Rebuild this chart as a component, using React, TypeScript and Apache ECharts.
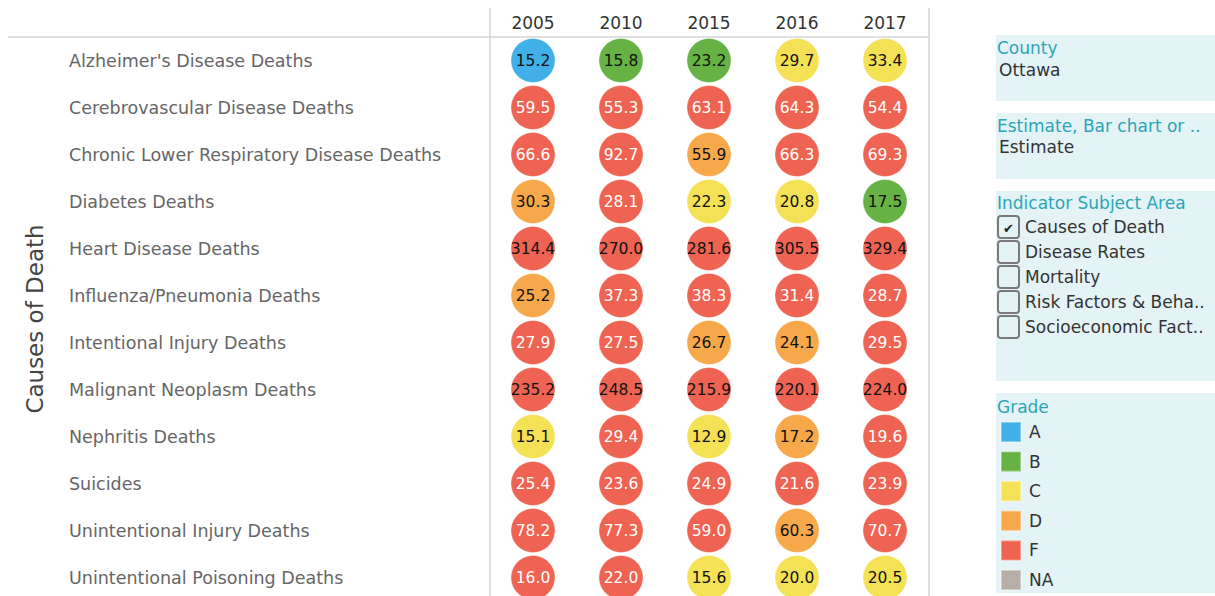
import React, { useEffect, useRef } from "react";
import * as echarts from "echarts";

const years = ["2005", "2010", "2015", "2016", "2017"];
const causes = [
  "Alzheimer's Disease Deaths",
  "Cerebrovascular Disease Deaths",
  "Chronic Lower Respiratory Disease Deaths",
  "Diabetes Deaths",
  "Heart Disease Deaths",
  "Influenza/Pneumonia Deaths",
  "Intentional Injury Deaths",
  "Malignant Neoplasm Deaths",
  "Nephritis Deaths",
  "Suicides",
  "Unintentional Injury Deaths",
  "Unintentional Poisoning Deaths",
];
const values = [
  [15.2, 15.8, 23.2, 29.7, 33.4],
  [59.5, 55.3, 63.1, 64.3, 54.4],
  [66.6, 92.7, 55.9, 66.3, 69.3],
  [30.3, 28.1, 22.3, 20.8, 17.5],
  [314.4, 270.0, 281.6, 305.5, 329.4],
  [25.2, 37.3, 38.3, 31.4, 28.7],
  [27.9, 27.5, 26.7, 24.1, 29.5],
  [235.2, 248.5, 215.9, 220.1, 224.0],
  [15.1, 29.4, 12.9, 17.2, 19.6],
  [25.4, 23.6, 24.9, 21.6, 23.9],
  [78.2, 77.3, 59.0, 60.3, 70.7],
  [16.0, 22.0, 15.6, 20.0, 20.5],
];
const grades = [
  ["A", "B", "B", "C", "C"],
  ["F", "F", "F", "F", "F"],
  ["F", "F", "D", "F", "F"],
  ["D", "F", "C", "C", "B"],
  ["F", "F", "F", "F", "F"],
  ["D", "F", "F", "F", "F"],
  ["F", "F", "D", "D", "F"],
  ["F", "F", "F", "F", "F"],
  ["C", "F", "C", "D", "F"],
  ["F", "F", "F", "F", "F"],
  ["F", "F", "F", "D", "F"],
  ["F", "F", "C", "C", "C"],
];
const gradeNames = ["A", "B", "C", "D", "F", "NA"];
const gradeColors = ["#41b0e8", "#66b245", "#f5e156", "#f7a84a", "#ee6352", "#b8aea9"];
const subjectAreas = [
  "Causes of Death",
  "Disease Rates",
  "Mortality",
  "Risk Factors & Beha..",
  "Socioeconomic Fact..",
];

const FONT = "DejaVu Sans";
const TEAL = "#2aa6b6";
const PANEL = "#e4f3f6";

export default function App() {
  const ref = useRef<HTMLDivElement>(null);
  useEffect(() => {
    if (!ref.current) return;
    const chart = echarts.init(ref.current, undefined, { renderer: "svg" });

    const series = gradeNames.map((g, gi) => {
      const data: any[] = [];
      values.forEach((row, ci) =>
        row.forEach((v, yi) => {
          if (grades[ci][yi] === g) {
            data.push({
              value: [yi, ci, v],
              label: { color: g === "F" && v < 100 ? "#ffffff" : "#111111" },
            });
          }
        })
      );
      return {
        name: g,
        type: "scatter",
        symbol: "circle",
        symbolSize: 44,
        itemStyle: { color: gradeColors[gi], opacity: 1, borderColor: "rgba(255,255,255,0.35)", borderWidth: 1 },
        label: {
          show: true,
          position: "inside",
          fontFamily: FONT,
          fontSize: 15.5,
          formatter: (p: any) => p.value[2].toFixed(1),
        },
        data,
      };
    });

    const lineStyle = { stroke: "#d6d6d6", lineWidth: 1.5 };
    const graphics: any[] = [
      { type: "line", shape: { x1: 8, y1: 37, x2: 930, y2: 37 }, style: lineStyle, silent: true },
      { type: "line", shape: { x1: 490, y1: 8, x2: 490, y2: 620 }, style: lineStyle, silent: true },
      { type: "line", shape: { x1: 929, y1: 8, x2: 929, y2: 620 }, style: lineStyle, silent: true },
      { type: "rect", shape: { x: 996, y: 35, width: 219, height: 66 }, style: { fill: PANEL }, z: -1 },
      { type: "rect", shape: { x: 996, y: 113, width: 219, height: 66 }, style: { fill: PANEL }, z: -1 },
      { type: "rect", shape: { x: 996, y: 191, width: 219, height: 190 }, style: { fill: PANEL }, z: -1 },
      { type: "rect", shape: { x: 996, y: 393, width: 219, height: 200 }, style: { fill: PANEL }, z: -1 },
      { type: "text", x: 997, y: 48, style: { text: "County", fill: TEAL, font: `17px ${FONT}`, verticalAlign: "middle" } },
      { type: "text", x: 999, y: 70, style: { text: "Ottawa", fill: "#333", font: `17px ${FONT}`, verticalAlign: "middle" } },
      { type: "text", x: 997, y: 126, style: { text: "Estimate, Bar chart or ..", fill: TEAL, font: `17px ${FONT}`, verticalAlign: "middle" } },
      { type: "text", x: 999, y: 147, style: { text: "Estimate", fill: "#333", font: `17px ${FONT}`, verticalAlign: "middle" } },
      { type: "text", x: 997, y: 203, style: { text: "Indicator Subject Area", fill: TEAL, font: `17px ${FONT}`, verticalAlign: "middle" } },
      { type: "text", x: 997, y: 407, style: { text: "Grade", fill: TEAL, font: `17px ${FONT}`, verticalAlign: "middle" } },
    ];
    subjectAreas.forEach((s, i) => {
      const cy = 227 + i * 25;
      graphics.push({
        type: "rect",
        shape: { x: 998, y: cy - 11, width: 21, height: 22, r: 3 },
        style: { fill: PANEL, stroke: "#7a7a7a", lineWidth: 2 },
      });
      graphics.push({
        type: "text",
        x: 1025,
        y: cy,
        style: { text: s, fill: "#333", font: `17px ${FONT}`, verticalAlign: "middle" },
      });
      if (i === 0) {
        graphics.push({
          type: "text",
          x: 1008.5,
          y: cy + 1,
          style: { text: "✔", fill: "#222", font: `13px ${FONT}`, align: "center", verticalAlign: "middle" },
        });
      }
    });

    chart.setOption({
      animation: false,
      textStyle: { fontFamily: FONT },
      grid: { left: 489, top: 37, width: 440, height: 564 },
      xAxis: {
        type: "category",
        position: "top",
        data: years,
        axisLine: { show: false },
        axisTick: { show: false },
        splitLine: { show: false },
        axisLabel: { color: "#333", fontSize: 17, fontFamily: FONT, margin: 6 },
      },
      yAxis: {
        type: "category",
        inverse: true,
        data: causes,
        axisLine: { show: false },
        axisTick: { show: false },
        splitLine: { show: false },
        axisLabel: { color: "#666", fontSize: 17.5, fontFamily: FONT, align: "left", margin: 420 },
        name: "Causes of Death",
        nameLocation: "middle",
        nameRotate: 90,
        nameGap: 443,
        nameTextStyle: { color: "#444", fontSize: 23, fontFamily: FONT },
      },
      legend: {
        orient: "vertical",
        left: 1000,
        top: 421,
        padding: 0,
        itemWidth: 20,
        itemHeight: 20,
        itemGap: 7.6,
        icon: "rect",
        selectedMode: false,
        data: gradeNames,
        textStyle: { color: "#333", fontSize: 17, fontFamily: FONT, lineHeight: 20, padding: [0, 0, 0, 3] },
      },
      graphic: graphics,
      series,
    });
    return () => chart.dispose();
  }, []);
  return (
    <div
      ref={ref}
      style={{ position: "fixed", left: 0, top: 0, width: 1215, height: 620, background: "#fff" }}
    />
  );
}
